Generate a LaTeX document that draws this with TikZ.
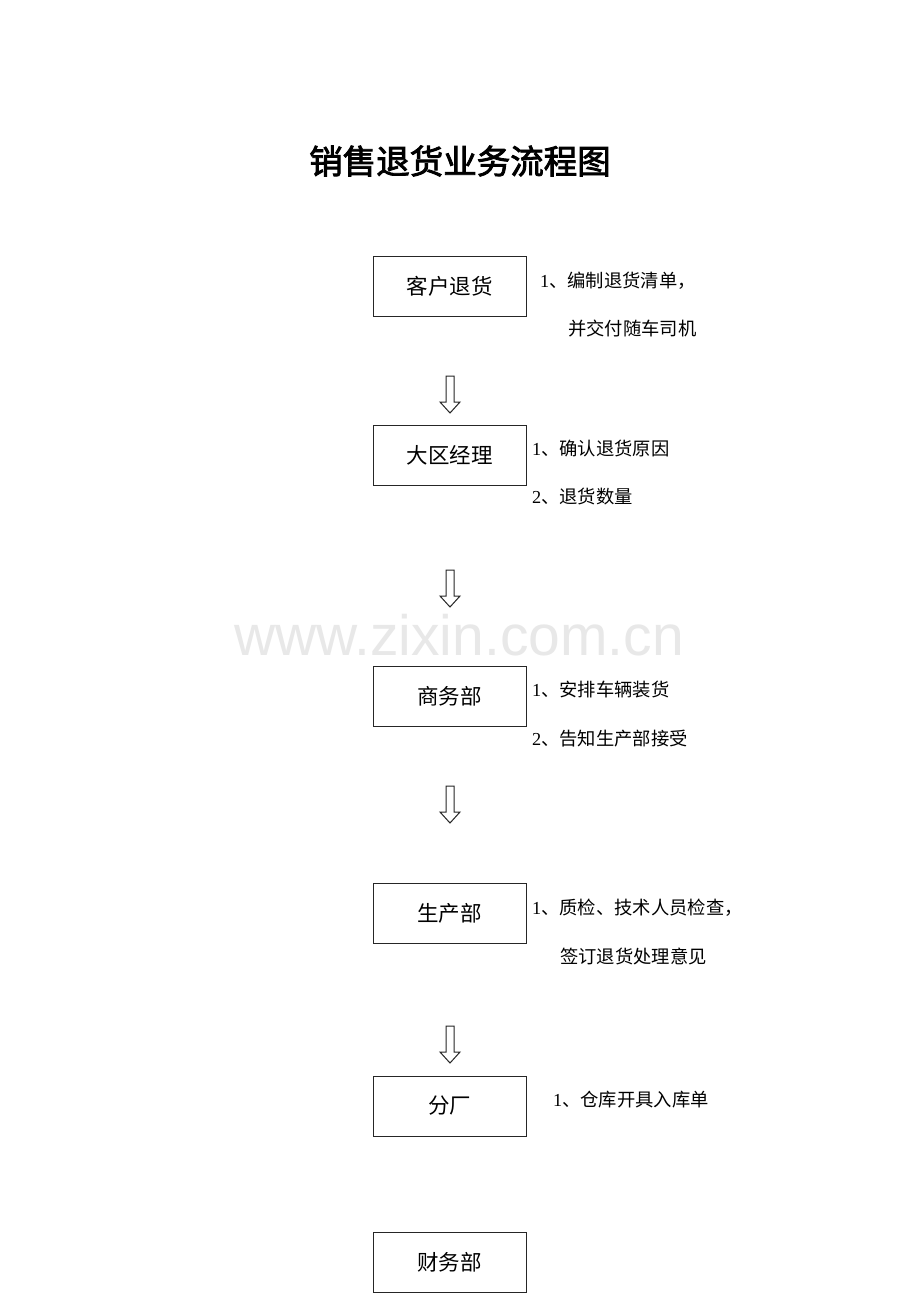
\documentclass[tikz,border=0pt]{standalone}
\usepackage{fontspec}
\usetikzlibrary{calc}
\setmainfont{Liberation Serif}
\newfontfamily\cjk{Noto Sans CJK SC}
\newfontfamily\cjktitle[FakeBold=2.5]{Noto Sans CJK SC}
\newfontfamily\wmfont{Liberation Sans}
\begin{document}
\begin{tikzpicture}[x=1pt,y=-1pt,
  stepbox/.style={draw=black!85,line width=1pt,minimum width=153pt,minimum height=60pt,inner sep=0pt,font=\cjk\fontsize{21.5}{25}\selectfont},
  note/.style={anchor=west,inner sep=0pt,font=\fontsize{18.3}{22}\selectfont},
  hollow/.style={draw=black!85,line width=1pt,fill=white}]
\useasboundingbox (0,0) rectangle (920,1302);
\fill[white] (0,0) rectangle (920,1302);
% watermark
\node[font=\wmfont\fontsize{57}{60}\selectfont,text=black!9,inner sep=0pt] (wm) at (459,635) {www.zixin.com.cn};
% title
\node[font=\cjktitle\fontsize{33.5}{38}\selectfont,inner sep=0pt] (title) at (460,161) {销售退货业务流程图};
% boxes
\node[stepbox] (b1) at (449.5,286) {客户退货};
\node[stepbox] (b2) at (449.5,455) {大区经理};
\node[stepbox] (b3) at (449.5,696) {商务部};
\node[stepbox] (b4) at (449.5,913) {生产部};
\node[stepbox] (b5) at (449.5,1106) {分厂};
\node[stepbox] (b6) at (449.5,1262) {财务部};
% notes
\node[note] (n1a) at (540,281) {1{\cjk 、编制退货清单，}};
\node[note] (n1b) at (568,329) {\cjk 并交付随车司机};
\node[note] (n2a) at (532,449) {1{\cjk 、确认退货原因}};
\node[note] (n2b) at (532,497) {2{\cjk 、退货数量}};
\node[note] (n3a) at (532,690) {1{\cjk 、安排车辆装货}};
\node[note] (n3b) at (532,739) {2{\cjk 、告知生产部接受}};
\node[note] (n4a) at (532,908) {1{\cjk 、质检、技术人员检查，}};
\node[note] (n4b) at (560,956) {\cjk 签订退货处理意见};
\node[note] (n5a) at (553,1100) {1{\cjk 、仓库开具入库单}};
% hollow arrows
\foreach \t/\name in {376/a1,570/a2,786/a3,1026/a4}{
  \coordinate (\name) at (450,\t);
  \draw[hollow] ($(\name)+(-4,0)$) -- ($(\name)+(4,0)$) -- ($(\name)+(4,26)$) -- ($(\name)+(10,26)$)
     -- ($(\name)+(0,37)$) -- ($(\name)+(-10,26)$) -- ($(\name)+(-4,26)$) -- cycle;
}
\end{tikzpicture}
\end{document}
